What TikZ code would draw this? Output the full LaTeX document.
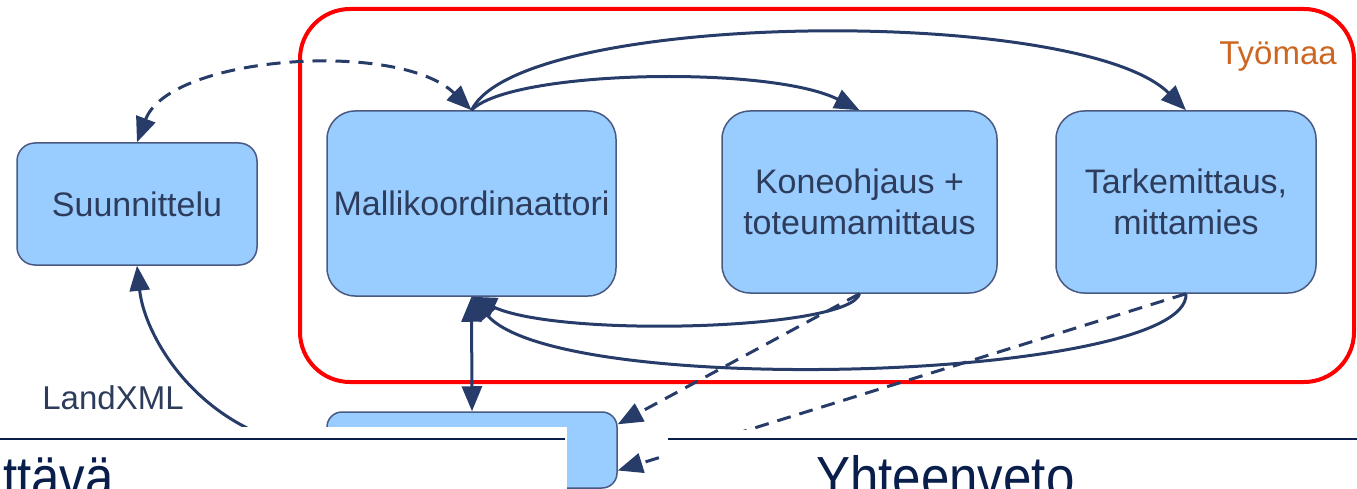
\documentclass[tikz,border=0pt]{standalone}
\usepackage{fontspec}
\setmainfont{Liberation Sans}
\usepackage{tikz}
\usetikzlibrary{arrows.meta, positioning}
\definecolor{bmfill}{RGB}{153,204,255}
\definecolor{bmdraw}{RGB}{72,90,130}
\definecolor{bmtext}{RGB}{46,60,92}
\definecolor{bmarrow}{RGB}{40,60,105}
\definecolor{bmred}{RGB}{255,0,0}
\definecolor{bmorange}{RGB}{204,102,34}
\definecolor{bmslide}{RGB}{10,30,75}
\newcommand{\slidefont}[1]{\scalebox{0.88}[1]{#1}}
\tikzset{
    bmbox/.style={rectangle, rounded corners=28pt, draw=bmdraw, line width=1.5pt, fill=bmfill, text=bmtext, align=center, inner sep=0pt, font=\fontsize{34}{41}\selectfont},
    flow/.style={draw=bmarrow, line width=3pt, ->},
    dflow/.style={flow, dash pattern=on 14pt off 9pt},
    slidetext/.style={text=bmslide, inner sep=0pt, font=\fontsize{58}{66}\selectfont}
}

\begin{document}
\begin{tikzpicture}[x=1pt, y=-1pt, >={Triangle[length=25pt, width=20pt]}]
    \useasboundingbox (0,0) rectangle (1357,489);
    \clip (0,0) rectangle (1357,489);
    % tyomaa frame
    \draw[bmred, line width=4pt, rounded corners=50pt] (300,9) rectangle (1354,382);
    \node[text=bmorange, font=\fontsize{33}{40}\selectfont] (tyomaa) at (1278,57) {Työmaa};
    % boxes
    \node[bmbox, minimum width=240pt, minimum height=122pt, rounded corners=18pt] (suun) at (137,204) {Suunnittelu};
    \node[bmbox, minimum width=289pt, minimum height=185pt] (malli) at (471.5,203.5) {Mallikoordinaattori};
    \node[bmbox, minimum width=275pt, minimum height=182pt] (kone) at (859.5,202) {Koneohjaus +\\toteumamittaus};
    \node[bmbox, minimum width=260pt, minimum height=182pt] (tark) at (1186,202) {Tarkemittaus,\\mittamies};
    \node[bmbox, minimum width=290pt, minimum height=76pt, rounded corners=15pt] (malli2) at (472,450) {};
    % connectors
    \draw[dflow, <->] (suun.north) .. controls (170,55) and (400,40) .. (malli.north);
    \draw[flow] (malli.north) .. controls (520,10) and (1080,5) .. (tark.north);
    \draw[flow] (malli.north) .. controls (510,70) and (770,65) .. (kone.north);
    \draw[flow] (kone.south) .. controls (850,330) and (560,338) .. (malli.south);
    \draw[flow] (tark.south) .. controls (1190,380) and (560,400) .. (malli.south);
    \draw[flow, <->] (malli.south) -- (malli2.north);
    \draw[flow] (malli2.west) .. controls (205,440) and (145,340) .. (suun.south);
    \node[text=bmtext, font=\fontsize{33}{40}\selectfont] (landxml) at (113,398) {LandXML};
    \draw[dflow] (kone.south) -- (malli2.10);
    \draw[dflow] (tark.south) -- (malli2.-8);
    % next slide on top
    \fill[white] (0,427) rectangle (567,489);
    \fill[white] (665,430) rectangle (1357,489);
    \draw[bmslide, line width=2pt] (0,439) -- (565,439);
    \draw[bmslide, line width=2pt] (668,439) -- (1357,439);
    \node[slidetext, anchor=base east] (prev) at (114,497) {\slidefont{ittävä}};
    \node[slidetext, anchor=base west] (title) at (816,497) {\slidefont{Yhteenveto}};
\end{tikzpicture}
\end{document}
